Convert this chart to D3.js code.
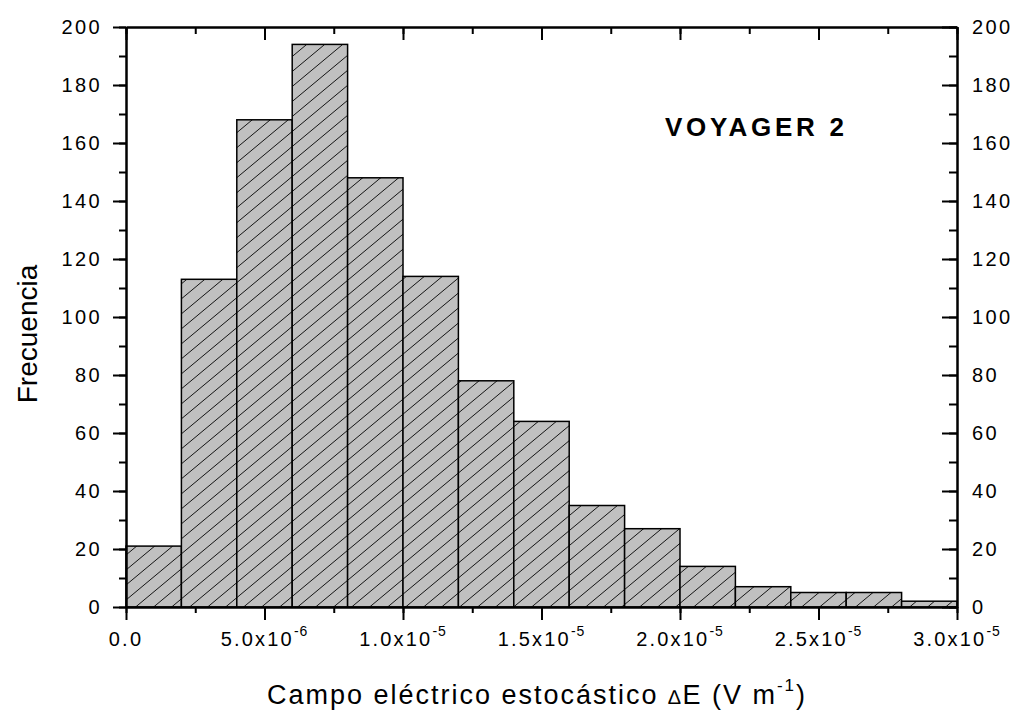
<!DOCTYPE html>
<html>
<head>
<meta charset="utf-8">
<script src="https://cdn.jsdelivr.net/npm/d3@7"></script>
<style>
  body { margin: 0; background: #fff; }
  svg { font-family: "Liberation Sans", Arial, sans-serif; }
</style>
</head>
<body>
<svg id="chart" width="1024" height="711"></svg>
<script>
// histogram bins (left edges, V/m), width 2e-6
const binStart = [0, 2e-6, 4e-6, 6e-6, 8e-6, 1e-5, 1.2e-5, 1.4e-5, 1.6e-5, 1.8e-5, 2e-5, 2.2e-5, 2.4e-5, 2.6e-5, 2.8e-5]
const counts = [21, 113, 168, 194, 148, 114, 78, 64, 35, 27, 14, 7, 5, 5, 2]
const binWidth = 2e-6

const xMajor = [0, 5e-6, 1e-5, 1.5e-5, 2e-5, 2.5e-5, 3e-5]
const xLabels = [["0.0", ""], ["5.0x10", "-6"], ["1.0x10", "-5"], ["1.5x10", "-5"], ["2.0x10", "-5"], ["2.5x10", "-5"], ["3.0x10", "-5"]]
const yMajor = [0, 20, 40, 60, 80, 100, 120, 140, 160, 180, 200]

const svg = d3.select("#chart")
const pL = 126, pR = 957, pT = 27, pB = 607

const x = d3.scaleLinear().domain([0, 3e-5]).range([pL, pR])
const y = d3.scaleLinear().domain([0, 200]).range([pB, pT])

// hatch pattern
const pat = svg.append("defs").append("pattern")
  .attr("id", "hatch")
  .attr("patternUnits", "userSpaceOnUse")
  .attr("width", 18).attr("height", 15)
pat.append("rect").attr("width", 18).attr("height", 15).attr("fill", "#c0c0c0")
pat.append("path").attr("d", "M-18,30 L36,-15 M-18,15 L18,-15 M0,30 L36,0")
  .attr("stroke", "#000").attr("stroke-width", 0.9)

svg.selectAll("rect.bar")
  .data(counts)
  .enter()
  .append("rect")
  .attr("class", "bar")
  .attr("x", (d, i) => x(binStart[i]))
  .attr("y", d => y(d))
  .attr("width", (d, i) => x(binStart[i] + binWidth) - x(binStart[i]))
  .attr("height", d => pB - y(d))
  .attr("fill", "url(#hatch)")
  .attr("stroke", "#000")
  .attr("stroke-width", 1.5)

const xMinor = d3.range(0, 13).map(i => i * 2.5e-6)
const yMinor = d3.range(0, 21).map(i => i * 10)

function axisLines(g) {
  g.select(".domain").attr("stroke-width", 2)
  g.selectAll(".tick line").attr("stroke-width", 2)
}

// bottom: outward ticks
svg.append("g").attr("transform", `translate(0,${pB})`)
  .call(d3.axisBottom(x).tickValues(xMinor).tickSize(6).tickSizeOuter(0).tickFormat(""))
  .call(axisLines)
svg.append("g").attr("transform", `translate(0,${pB})`)
  .call(d3.axisBottom(x).tickValues(xMajor).tickSize(13).tickSizeOuter(0).tickFormat(""))
  .call(axisLines)
// top: inward ticks
svg.append("g").attr("transform", `translate(0,${pT})`)
  .call(d3.axisBottom(x).tickValues(xMinor).tickSize(7).tickSizeOuter(0).tickFormat(""))
  .call(axisLines)
svg.append("g").attr("transform", `translate(0,${pT})`)
  .call(d3.axisBottom(x).tickValues(xMajor).tickSize(13).tickSizeOuter(0).tickFormat(""))
  .call(axisLines)
// left: outward
svg.append("g").attr("transform", `translate(${pL},0)`)
  .call(d3.axisLeft(y).tickValues(yMinor).tickSize(7).tickSizeOuter(0).tickFormat(""))
  .call(axisLines)
svg.append("g").attr("transform", `translate(${pL},0)`)
  .call(d3.axisLeft(y).tickValues(yMajor).tickSize(13).tickSizeOuter(0).tickFormat(""))
  .call(axisLines)
// right: inward
svg.append("g").attr("transform", `translate(${pR},0)`)
  .call(d3.axisLeft(y).tickValues(yMinor).tickSize(8).tickSizeOuter(0).tickFormat(""))
  .call(axisLines)
svg.append("g").attr("transform", `translate(${pR},0)`)
  .call(d3.axisLeft(y).tickValues(yMajor).tickSize(15).tickSizeOuter(0).tickFormat(""))
  .call(axisLines)

// tick labels
const xt = svg.append("g").selectAll("text")
  .data(xMajor)
  .enter()
  .append("text")
  .attr("x", d => x(d))
  .attr("y", 646)
  .attr("text-anchor", "middle")
  .attr("font-size", 20)
  .attr("letter-spacing", 2.2)
xt.append("tspan").text((d, i) => xLabels[i][0])
xt.append("tspan").attr("dy", -10).attr("font-size", 14).attr("letter-spacing", 1).text((d, i) => xLabels[i][1])

svg.append("g").selectAll("text")
  .data(yMajor)
  .enter()
  .append("text")
  .attr("x", 102)
  .attr("y", d => y(d) + 7)
  .attr("text-anchor", "end")
  .attr("font-size", 20)
  .attr("letter-spacing", 2.4)
  .text(d => d)

svg.append("g").selectAll("text")
  .data(yMajor)
  .enter()
  .append("text")
  .attr("x", 972)
  .attr("y", d => y(d) + 7)
  .attr("font-size", 20)
  .attr("letter-spacing", 2.4)
  .text(d => d)

// axis titles
const xt2 = svg.append("text")
  .attr("x", 537).attr("y", 704)
  .attr("text-anchor", "middle")
  .attr("font-size", 27)
  .attr("letter-spacing", 2)
xt2.append("tspan").text("Campo eléctrico estocástico ")
xt2.append("tspan").attr("font-size", 20).text("∆")
xt2.append("tspan").text("E (V m")
xt2.append("tspan").attr("dy", -13).attr("font-size", 17).text("-1")
xt2.append("tspan").attr("dy", 13).text(")")

svg.append("text")
  .attr("transform", "translate(37,334) rotate(-90)")
  .attr("text-anchor", "middle")
  .attr("font-size", 28)
  .text("Frecuencia")

svg.append("text")
  .attr("x", 665).attr("y", 136)
  .attr("font-size", 26)
  .attr("font-weight", "bold")
  .attr("letter-spacing", 3.7)
  .text("VOYAGER 2")
</script>
</body>
</html>
